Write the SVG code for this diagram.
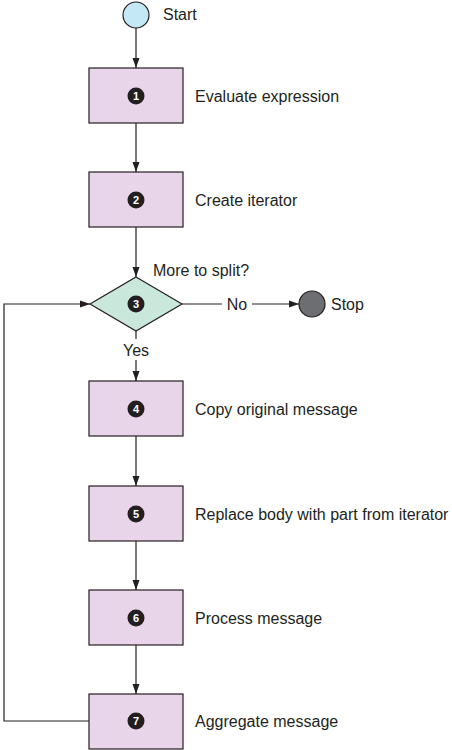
<svg xmlns="http://www.w3.org/2000/svg" width="452" height="750" viewBox="0 0 452 750">
<style>
.box{fill:#e9d5e9;stroke:#231f20;stroke-width:1.2}
.lbl{font-family:"Liberation Sans",Arial,sans-serif;font-size:16px;fill:#231f20}
.num{font-family:"Liberation Sans",Arial,sans-serif;font-size:11px;font-weight:bold;fill:#fff;text-anchor:middle}
.line{fill:none;stroke:#231f20;stroke-width:1.2}
</style>
<defs>
<marker id="ah" viewBox="0 0 10 10" refX="10" refY="5" markerWidth="10" markerHeight="10" markerUnits="userSpaceOnUse" orient="auto">
<path d="M0,1.5 L10,5 L0,8.5 z" fill="#231f20"/>
</marker>
</defs>
<g id="connectors">
<line class="line" x1="136" y1="28" x2="136" y2="68" marker-end="url(#ah)"/>
<line class="line" x1="136" y1="123" x2="136" y2="172" marker-end="url(#ah)"/>
<line class="line" x1="136" y1="227" x2="136" y2="277" marker-end="url(#ah)"/>
<line class="line" x1="182" y1="304" x2="222" y2="304"/>
<line class="line" x1="252" y1="304" x2="299" y2="304" marker-end="url(#ah)"/>
<line class="line" x1="136" y1="331" x2="136" y2="339"/>
<line class="line" x1="136" y1="360" x2="136" y2="381" marker-end="url(#ah)"/>
<line class="line" x1="136" y1="436" x2="136" y2="486" marker-end="url(#ah)"/>
<line class="line" x1="136" y1="541" x2="136" y2="590" marker-end="url(#ah)"/>
<line class="line" x1="136" y1="645" x2="136" y2="694" marker-end="url(#ah)"/>
<polyline class="line" points="89,721 4,721 4,304 90,304" marker-end="url(#ah)"/>
<text class="lbl" x="237" y="310" text-anchor="middle">No</text>
<text class="lbl" x="136" y="356" text-anchor="middle">Yes</text>
</g>
<g id="start">
<circle cx="136" cy="15" r="13" fill="#c5e8f6" stroke="#231f20" stroke-width="1.2"/>
<text class="lbl" x="163" y="20">Start</text>
</g>
<g id="step1">
<rect class="box" x="89" y="68" width="94" height="55"/>
<circle cx="136" cy="96" r="8.5" fill="#231f20"/>
<text class="num" x="136" y="100">1</text>
<text class="lbl" x="195" y="102">Evaluate expression</text>
</g>
<g id="step2">
<rect class="box" x="89" y="172" width="94" height="55"/>
<circle cx="136" cy="200" r="8.5" fill="#231f20"/>
<text class="num" x="136" y="204">2</text>
<text class="lbl" x="195" y="206">Create iterator</text>
</g>
<g id="step3">
<polygon points="136,277 182,304 136,331 90,304" fill="#c9e7db" stroke="#231f20" stroke-width="1.2"/>
<circle cx="136" cy="304" r="8.5" fill="#231f20"/>
<text class="num" x="136" y="308">3</text>
<text class="lbl" x="153" y="276">More to split?</text>
</g>
<g id="stop">
<circle cx="312" cy="304" r="13" fill="#6d6e71" stroke="#231f20" stroke-width="1.2"/>
<text class="lbl" x="331" y="310">Stop</text>
</g>
<g id="step4">
<rect class="box" x="89" y="381" width="94" height="55"/>
<circle cx="136" cy="409" r="8.5" fill="#231f20"/>
<text class="num" x="136" y="413">4</text>
<text class="lbl" x="195" y="415">Copy original message</text>
</g>
<g id="step5">
<rect class="box" x="89" y="486" width="94" height="55"/>
<circle cx="136" cy="514" r="8.5" fill="#231f20"/>
<text class="num" x="136" y="518">5</text>
<text class="lbl" x="195" y="520">Replace body with part from iterator</text>
</g>
<g id="step6">
<rect class="box" x="89" y="590" width="94" height="55"/>
<circle cx="136" cy="618" r="8.5" fill="#231f20"/>
<text class="num" x="136" y="622">6</text>
<text class="lbl" x="195" y="624">Process message</text>
</g>
<g id="step7">
<rect class="box" x="89" y="694" width="94" height="55"/>
<circle cx="136" cy="721" r="8.5" fill="#231f20"/>
<text class="num" x="136" y="725">7</text>
<text class="lbl" x="195" y="727">Aggregate message</text>
</g>
</svg>
